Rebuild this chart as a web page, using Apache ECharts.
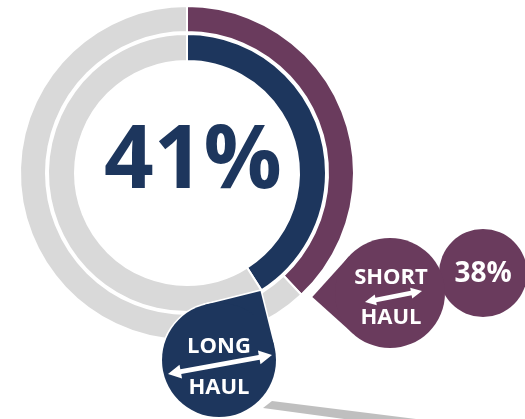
<!DOCTYPE html>
<html>
<head>
<meta charset="utf-8">
<script src="https://cdn.jsdelivr.net/npm/echarts@6/dist/echarts.min.js"></script>
<style>
  html, body { margin: 0; padding: 0; background: #fff; }
  #chart { width: 525px; height: 419px; }
</style>
</head>
<body>
<div id="chart"></div>
<script>
// data
const innerNames = ["Long haul", "Rest"];
const innerValues = [41, 59];
const outerNames = ["Short haul", "Rest"];
const outerValues = [38, 62];

const NAVY = "#1d365d";
const PURPLE = "#6a3b5d";
const GRAY = "#d9d9d9";
const FONT = "'Open Sans', 'Noto Sans', sans-serif";

const chart = echarts.init(document.getElementById("chart"));

const pct = (vals) => Math.round((vals[0] / (vals[0] + vals[1])) * 100) + "%";

// teardrop = circle + square corner pointing at angle deg
const teardrop = (cx, cy, r, deg, color, border) => {
  const t = (deg * Math.PI) / 180;
  const d = r * Math.SQRT2;
  const p1 = [cx + r * Math.cos(t - Math.PI / 4), cy + r * Math.sin(t - Math.PI / 4)];
  const p2 = [cx + r * Math.cos(t + Math.PI / 4), cy + r * Math.sin(t + Math.PI / 4)];
  const tip = [cx + d * Math.cos(t), cy + d * Math.sin(t)];
  const pts = [p1, tip, p2, [cx, cy]];
  const els = [];
  if (border) {
    els.push({ type: "polygon", z: 10, shape: { points: pts }, style: { fill: "#fff", stroke: "#fff", lineWidth: border * 2, lineJoin: "miter" } });
    els.push({ type: "circle", z: 10, shape: { cx, cy, r }, style: { fill: "#fff", stroke: "#fff", lineWidth: border * 2 } });
  }
  els.push({ type: "polygon", z: 11, shape: { points: pts }, style: { fill: color } });
  els.push({ type: "circle", z: 11, shape: { cx, cy, r }, style: { fill: color } });
  return els;
};

// double headed arrow from a to b
const arrow = (a, b, w, h, hw) => {
  const len = Math.hypot(b[0] - a[0], b[1] - a[1]);
  const u = [(b[0] - a[0]) / len, (b[1] - a[1]) / len];
  const n = [-u[1], u[0]];
  const at = (p, s, k) => [p[0] + u[0] * s + n[0] * k, p[1] + u[1] * s + n[1] * k];
  return {
    type: "polygon",
    z: 13,
    shape: {
      points: [
        a, at(a, h, hw), at(a, h, w), at(b, -h, w), at(b, -h, hw),
        b, at(b, -h, -hw), at(b, -h, -w), at(a, h, -w), at(a, h, -hw)
      ]
    },
    style: { fill: "#fff" }
  };
};

const label = (text, x, y, size) => ({
  type: "text",
  z: 14,
  x, y,
  style: {
    text,
    fill: "#fff",
    fontFamily: FONT,
    fontWeight: "bold",
    fontSize: size,
    textAlign: "center",
    textVerticalAlign: "middle"
  }
});

const option = {
  animation: false,
  backgroundColor: "#fff",
  series: [
    {
      type: "pie",
      silent: true,
      center: [187, 173],
      radius: [112, 139],
      startAngle: 90,
      label: { show: false },
      labelLine: { show: false },
      itemStyle: { borderColor: "#fff", borderWidth: 2 },
      data: innerValues.map((v, i) => ({ name: innerNames[i], value: v, itemStyle: { color: i === 0 ? NAVY : GRAY } }))
    },
    {
      type: "pie",
      silent: true,
      center: [187, 173],
      radius: [141, 167],
      startAngle: 90,
      label: { show: false },
      labelLine: { show: false },
      itemStyle: { borderColor: "#fff", borderWidth: 2 },
      data: outerValues.map((v, i) => ({ name: outerNames[i], value: v, itemStyle: { color: i === 0 ? PURPLE : GRAY } }))
    }
  ],
  graphic: [
    {
      type: "text",
      z: 14,
      x: 193,
      y: 163,
      style: {
        text: pct(innerValues),
        fill: NAVY,
        fontFamily: FONT,
        fontWeight: "bold",
        fontSize: 87,
        textAlign: "center",
        textVerticalAlign: "middle"
      }
    },
    // grey connector bar at the bottom
    {
      type: "polygon",
      z: 9,
      shape: { points: [[272, 401], [440, 422], [440, 432], [263, 408]] },
      style: { fill: "#bfbfbf" }
    },
    { type: "circle", z: 11, shape: { cx: 483, cy: 273, r: 44 }, style: { fill: PURPLE } },
    ...teardrop(390, 293, 55, 177, PURPLE, 0),
    ...teardrop(219, 360, 57, -59, NAVY, 1.5),
    label("SHORT", 391, 278, 22),
    label("HAUL", 391, 318, 22),
    arrow([365, 302], [422, 291], 2.3, 11, 5.5),
    label(pct(outerValues), 483, 274, 28),
    label("LONG", 219, 347, 22),
    label("HAUL", 219, 388, 22),
    arrow([168, 374], [272, 355], 2.5, 13, 7)
  ]
};

chart.setOption(option);
</script>
</body>
</html>
